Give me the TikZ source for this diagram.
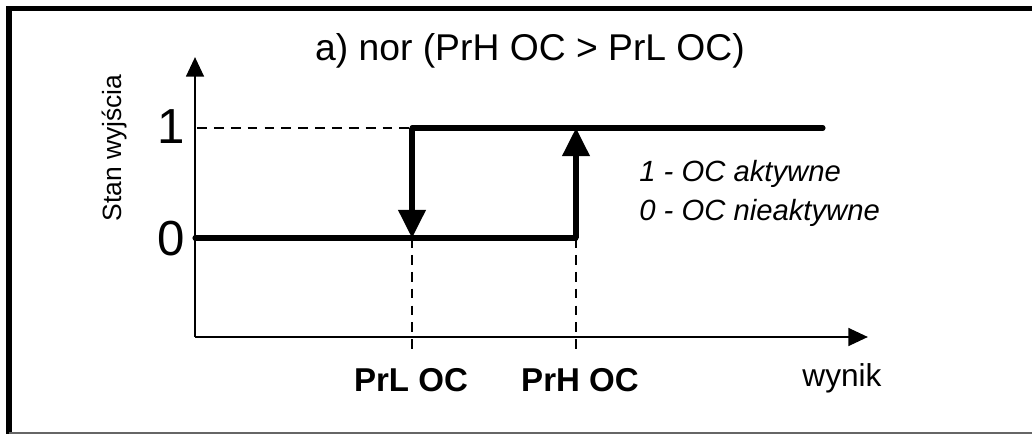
\documentclass[tikz,border=0pt]{standalone}
\usepackage{fontspec}
\setmainfont{Liberation Sans}
\usetikzlibrary{arrows.meta, positioning}

\tikzset{
    axis/.style = {line width=2.1pt, -{Triangle[length=14pt, width=12.5pt]}},
    signal/.style = {line width=3.6pt, line cap=round},
    jump/.style = {line width=3.6pt, -{Triangle[length=20pt, width=19pt]}},
    guide/.style = {line width=1.3pt, dash pattern=on 7pt off 5pt},
    level/.style = {inner sep=0, font=\fontsize{35}{35}\selectfont},
    threshold/.style = {inner sep=0, font=\fontsize{23.5}{23.5}\selectfont\bfseries},
    legend/.style = {anchor=base west, inner sep=0,
        font=\fontsize{20.8}{20.8}\selectfont\itshape}
}

\begin{document}
\begin{tikzpicture} [x=0.025cm, y=-0.025cm]

        \useasboundingbox (0,0) rectangle (1032,434);

        % Frame
        \draw [line width=3.6pt] (1032,8.5) -- (9,8.5) -- (9,434);
        \draw [line width=1pt, black!60] (9,433) -- (1032,433);

        % Points
        \coordinate (origin) at (195,337);
        \coordinate (ytip) at (195,57);
        \coordinate (xtip) at (868,337);
        \coordinate (zero) at (195,238);
        \coordinate (one) at (197,128);
        \coordinate (prl1) at (412,128);
        \coordinate (prl0) at (412,238);
        \coordinate (prlTick) at (412,353);
        \coordinate (prh1) at (576,128);
        \coordinate (prh0) at (576,238);
        \coordinate (prhTick) at (576,353);
        \coordinate (highEnd) at (823,128);

        % Title
        \node (title) [anchor=base, inner sep=0,
            font=\fontsize{26.5}{26.5}\selectfont] at (530,60)
            {a) nor (PrH OC > PrL OC)};

        % Axis labels
        \node (ylabel) [rotate=90, inner sep=0,
            font=\fontsize{18.8}{18.8}\selectfont] at (115,148) {Stan wyjścia};
        \node (xlabel) [anchor=base, inner sep=0,
            font=\fontsize{22.5}{22.5}\selectfont] at (842,386) {wynik};

        % Levels
        \node (lone) [level, anchor=base] at (171,143) {1};
        \node (lzero) [level, anchor=base] at (171,255) {0};

        % Thresholds
        \node (prl) [threshold, anchor=base] at (411,391) {PrL OC};
        \node (prh) [threshold, anchor=base] at (580,391) {PrH OC};

        % Legend
        \node (leg1) [legend] at (639,181) {1 - OC aktywne};
        \node (leg0) [legend] at (639,220) {0 - OC nieaktywne};

        % Axes
        \draw [axis] (origin) -- (ytip);
        \draw [axis] (origin) -- (xtip);

        % Guides
        \draw [guide] (one) -- (prl1);
        \draw [guide] (prl0) -- (prlTick);
        \draw [guide] (prh0) -- (prhTick);

        % Output
        \draw [signal] (zero) -- (prh0);
        \draw [signal] (prl1) -- (highEnd);
        \draw [jump] (prh0) -- (prh1);
        \draw [jump] (prl1) -- (prl0);

\end{tikzpicture}
\end{document}
